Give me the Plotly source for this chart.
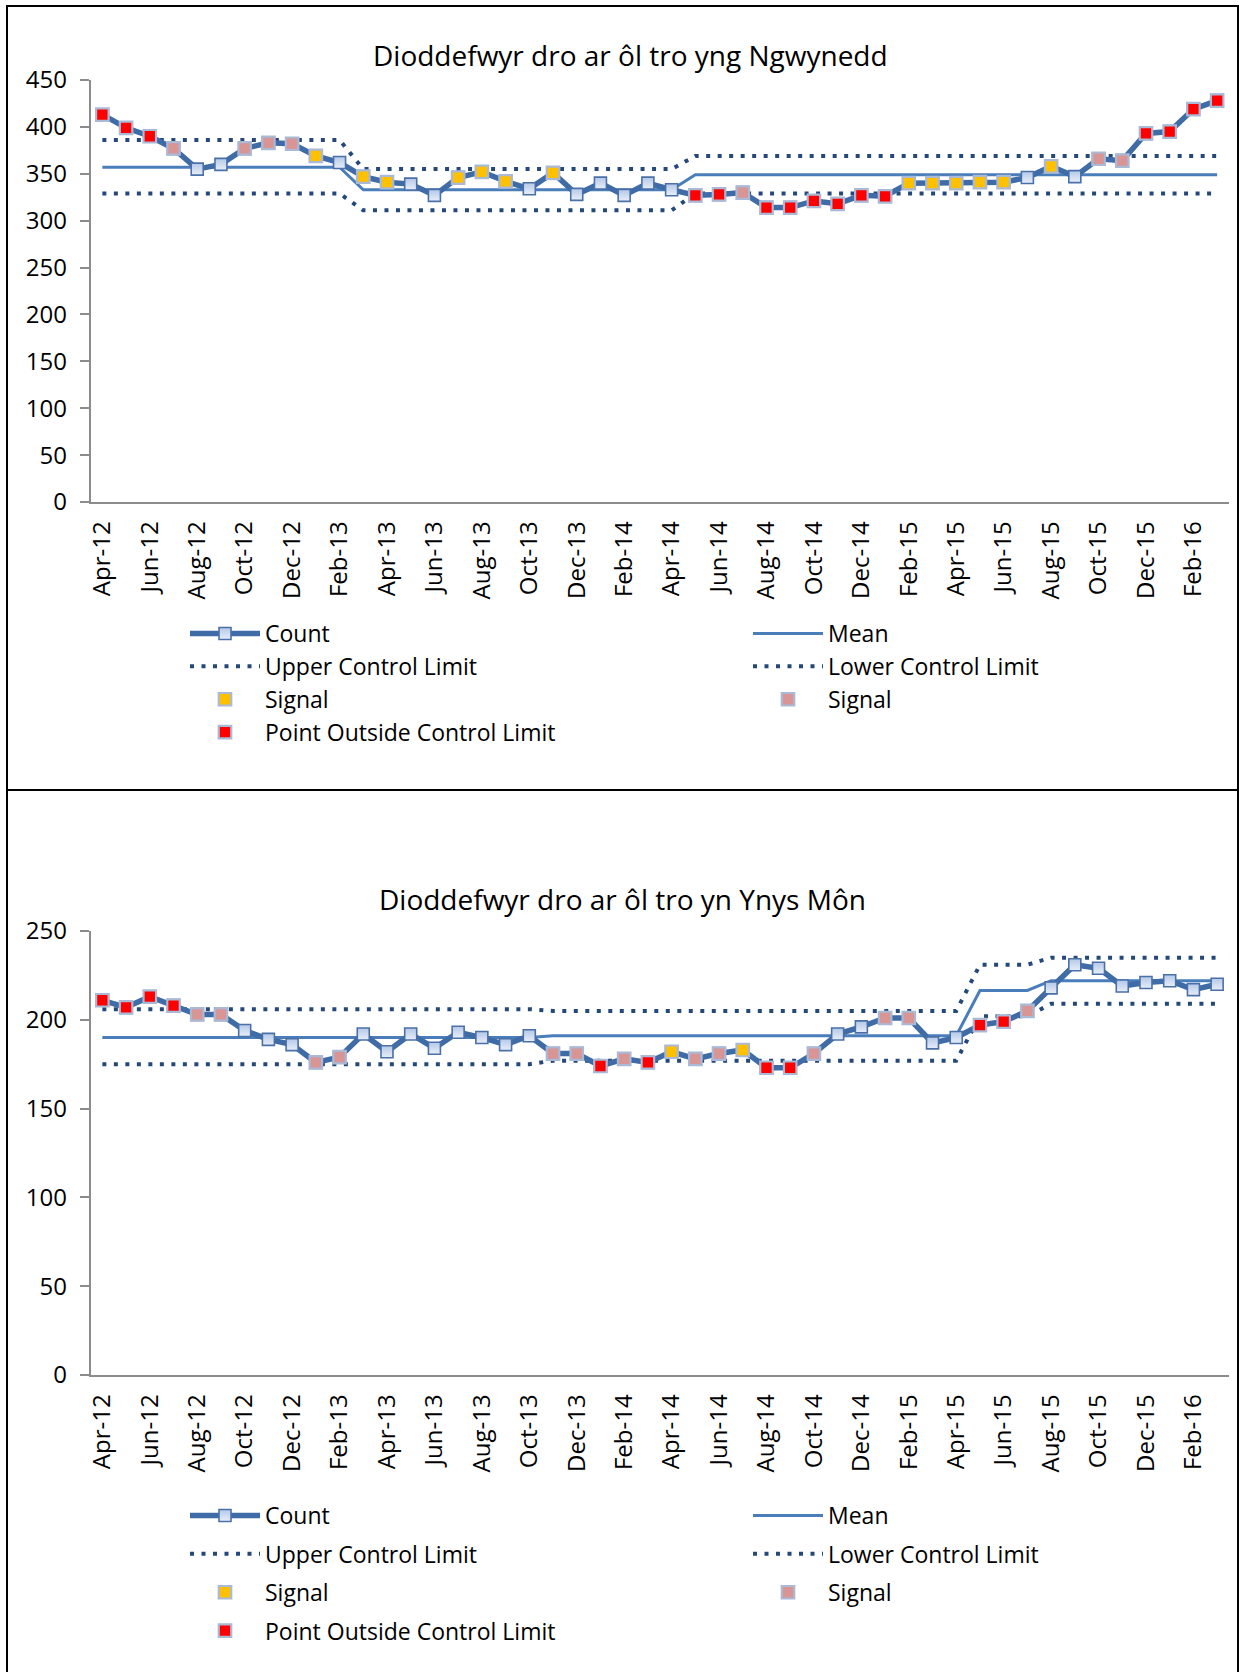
"""
Control charts: repeat victims of crime, Gwynedd and Ynys Môn (Apr-12 to Mar-16).
"""

import pandas as pd
import plotly.graph_objects as go

W, H = 1239, 1672

MONTHS = list(pd.date_range("2012-04-01", periods=48, freq="MS").strftime("%b-%y"))
TICK_MONTHS = MONTHS[::2]

# --- Gwynedd ---
GW_TITLE = "Dioddefwyr dro ar ôl tro yng Ngwynedd"
GW_COUNT = [413, 399, 390, 377, 355, 360, 377, 383, 382, 369, 362, 347,
            341, 339, 327, 346, 352, 342, 334, 351, 328, 340, 327, 340,
            333, 327, 328, 330, 314, 314, 321, 318, 327, 326, 340, 340,
            340, 341, 341, 346, 358, 347, 366, 364, 393, 395, 419, 428]
# n = normal, y = signal (yellow), p = signal (pink), r = outside control limit
GW_STATUS = ["r", "r", "r", "p", "n", "n", "p", "p", "p", "y", "n", "y",
             "y", "n", "n", "y", "y", "y", "n", "y", "n", "n", "n", "n",
             "n", "r", "r", "p", "r", "r", "r", "r", "r", "r", "y", "y",
             "y", "y", "y", "n", "y", "n", "p", "p", "r", "r", "r", "r"]
GW_MEAN = [357] * 11 + [333] * 14 + [349] * 23
GW_UCL = [386] * 11 + [355] * 14 + [369] * 23
GW_LCL = [329] * 11 + [311] * 14 + [329] * 23
GW_YMAX = 450

# --- Ynys Môn ---
YM_TITLE = "Dioddefwyr dro ar ôl tro yn Ynys Môn"
YM_COUNT = [211, 207, 213, 208, 203, 203, 194, 189, 186, 176, 179, 192,
            182, 192, 184, 193, 190, 186, 191, 181, 181, 174, 178, 176,
            182, 178, 181, 183, 173, 173, 181, 192, 196, 201, 201, 187,
            190, 197, 199, 205, 218, 231, 229, 219, 221, 222, 217, 220]
YM_STATUS = ["r", "r", "r", "r", "p", "p", "n", "n", "n", "p", "p", "n",
             "n", "n", "n", "n", "n", "n", "n", "p", "p", "r", "p", "r",
             "y", "p", "p", "y", "r", "r", "p", "n", "n", "p", "p", "n",
             "n", "r", "r", "p", "n", "n", "n", "n", "n", "n", "n", "n"]
YM_MEAN = [190] * 19 + [191] * 18 + [216.5] * 3 + [222] * 8
YM_UCL = [206] * 19 + [205] * 18 + [231] * 3 + [235] * 8
YM_LCL = [175] * 19 + [177] * 18 + [202] * 3 + [209] * 8
YM_YMAX = 250

COUNT_LINE = "#3F6CA6"
MEAN_LINE = "#4A7EBB"
LIMIT_LINE = "#24487A"
AXIS_GRAY = "#8C8C8C"
SIGNAL_EDGE = "#A9B9D6"
FONT = "Open Sans"


def add_control_chart(fig, count, status, mean, ucl, lcl, xref, yref, left_legend, right_legend):
    """Add the count, mean, limit and signal series of one control chart.
    The Excel-style two column legend is built from two vertical legends."""
    common = dict(x=MONTHS, xaxis=xref, yaxis=yref, hoverinfo="skip")

    def place(legend, rank):
        return dict(legend=legend, legendrank=rank, legendgroup=f"{legend}-{rank}")

    fig.add_trace(go.Scatter(
        y=ucl, name="Upper Control Limit", mode="lines",
        line=dict(color=LIMIT_LINE, width=4, dash="4px,7.5px"),
        **place(left_legend, 3), **common,
    ))
    fig.add_trace(go.Scatter(
        y=lcl, name="Lower Control Limit", mode="lines",
        line=dict(color=LIMIT_LINE, width=4, dash="4px,7.5px"),
        **place(right_legend, 4), **common,
    ))
    fig.add_trace(go.Scatter(
        y=mean, name="Mean", mode="lines",
        line=dict(color=MEAN_LINE, width=3),
        **place(right_legend, 2), **common,
    ))
    fig.add_trace(go.Scatter(
        y=count, name="Count", mode="lines+markers",
        line=dict(color=COUNT_LINE, width=5.5),
        marker=dict(symbol="square", size=12, color="#B4C8E8",
                    gradient=dict(type="vertical", color="#E8EEF8"),
                    line=dict(color="#4A70A8", width=1.6)),
        **place(left_legend, 1), **common,
    ))

    signal_styles = [
        ("y", "Signal", "#FFC000", left_legend, 5),
        ("p", "Signal", "#D99594", right_legend, 6),
        ("r", "Point Outside Control Limit", "#FF0000", left_legend, 7),
    ]
    for code, name, color, legend, rank in signal_styles:
        fig.add_trace(go.Scatter(
            y=[v if s == code else None for v, s in zip(count, status)],
            name=name, mode="markers",
            marker=dict(symbol="square", size=12.5, color=color,
                        line=dict(color=SIGNAL_EDGE, width=2.2)),
            **place(legend, rank), **common,
        ))


def x_axis(anchor):
    return dict(
        domain=[90.5 / W, 1229 / W], anchor=anchor, type="category",
        range=[-0.5, len(MONTHS) - 0.5], tickmode="array", tickvals=TICK_MONTHS,
        tickangle=-90, ticks="", showline=True, linecolor=AXIS_GRAY, linewidth=1.5,
        showgrid=False, zeroline=False, tickfont=dict(size=24), ticklabelstandoff=8,
        fixedrange=True, automargin=False,
    )


def y_axis(anchor, top_px, bottom_px, ymax):
    return dict(
        domain=[1 - bottom_px / H, 1 - top_px / H], anchor=anchor,
        range=[0, ymax], dtick=50, ticks="outside", ticklen=9, tickwidth=1.5,
        tickcolor=AXIS_GRAY, showline=True, linecolor=AXIS_GRAY, linewidth=1.5,
        showgrid=False, zeroline=False, tickfont=dict(size=24), ticklabelstandoff=8,
        fixedrange=True, automargin=False,
    )


def legend_box(left_px, top_px, gap):
    return dict(
        orientation="v", x=left_px / W, y=1 - top_px / H, xanchor="left", yanchor="top",
        itemwidth=70, tracegroupgap=gap, traceorder="grouped",
        font=dict(size=23, color="black"), bgcolor="rgba(0,0,0,0)",
        borderwidth=0, itemclick=False, itemdoubleclick=False,
    )


fig = go.Figure()
add_control_chart(fig, GW_COUNT, GW_STATUS, GW_MEAN, GW_UCL, GW_LCL,
                  "x", "y", "legend", "legend2")
add_control_chart(fig, YM_COUNT, YM_STATUS, YM_MEAN, YM_UCL, YM_LCL,
                  "x2", "y2", "legend3", "legend4")

fig.update_layout(
    width=W, height=H,
    margin=dict(l=0, r=0, t=0, b=0, autoexpand=False),
    paper_bgcolor="white", plot_bgcolor="white",
    font=dict(family=FONT, size=23, color="black"),
    xaxis=x_axis("y"),
    yaxis=y_axis("x", 80, 502, GW_YMAX),
    xaxis2=x_axis("y2"),
    yaxis2=y_axis("x2", 931, 1375, YM_YMAX),
    legend=legend_box(185, 612, 0),
    legend2=legend_box(748, 612, 0),
    legend3=legend_box(185, 1494, 5.5),
    legend4=legend_box(748, 1494, 5.5),
    annotations=[
        dict(text=GW_TITLE, x=630 / W, y=1 - 55 / H, xref="paper", yref="paper",
             showarrow=False, xanchor="center", yanchor="middle", font=dict(size=28)),
        dict(text=YM_TITLE, x=622 / W, y=1 - 899 / H, xref="paper", yref="paper",
             showarrow=False, xanchor="center", yanchor="middle", font=dict(size=28)),
    ],
    shapes=[
        dict(type="rect", xref="paper", yref="paper", x0=7 / W, x1=1238 / W,
             y0=-0.01, y1=1 - 6 / H, line=dict(color="black", width=2)),
        dict(type="line", xref="paper", yref="paper", x0=7 / W, x1=1238 / W,
             y0=1 - 790 / H, y1=1 - 790 / H, line=dict(color="black", width=2)),
    ],
    showlegend=True,
    hovermode=False,
)

fig.write_html(
    "out.html",
    config={"displayModeBar": False},
    post_script="document.body.style.margin='0px';document.body.style.overflow='hidden';",
)
